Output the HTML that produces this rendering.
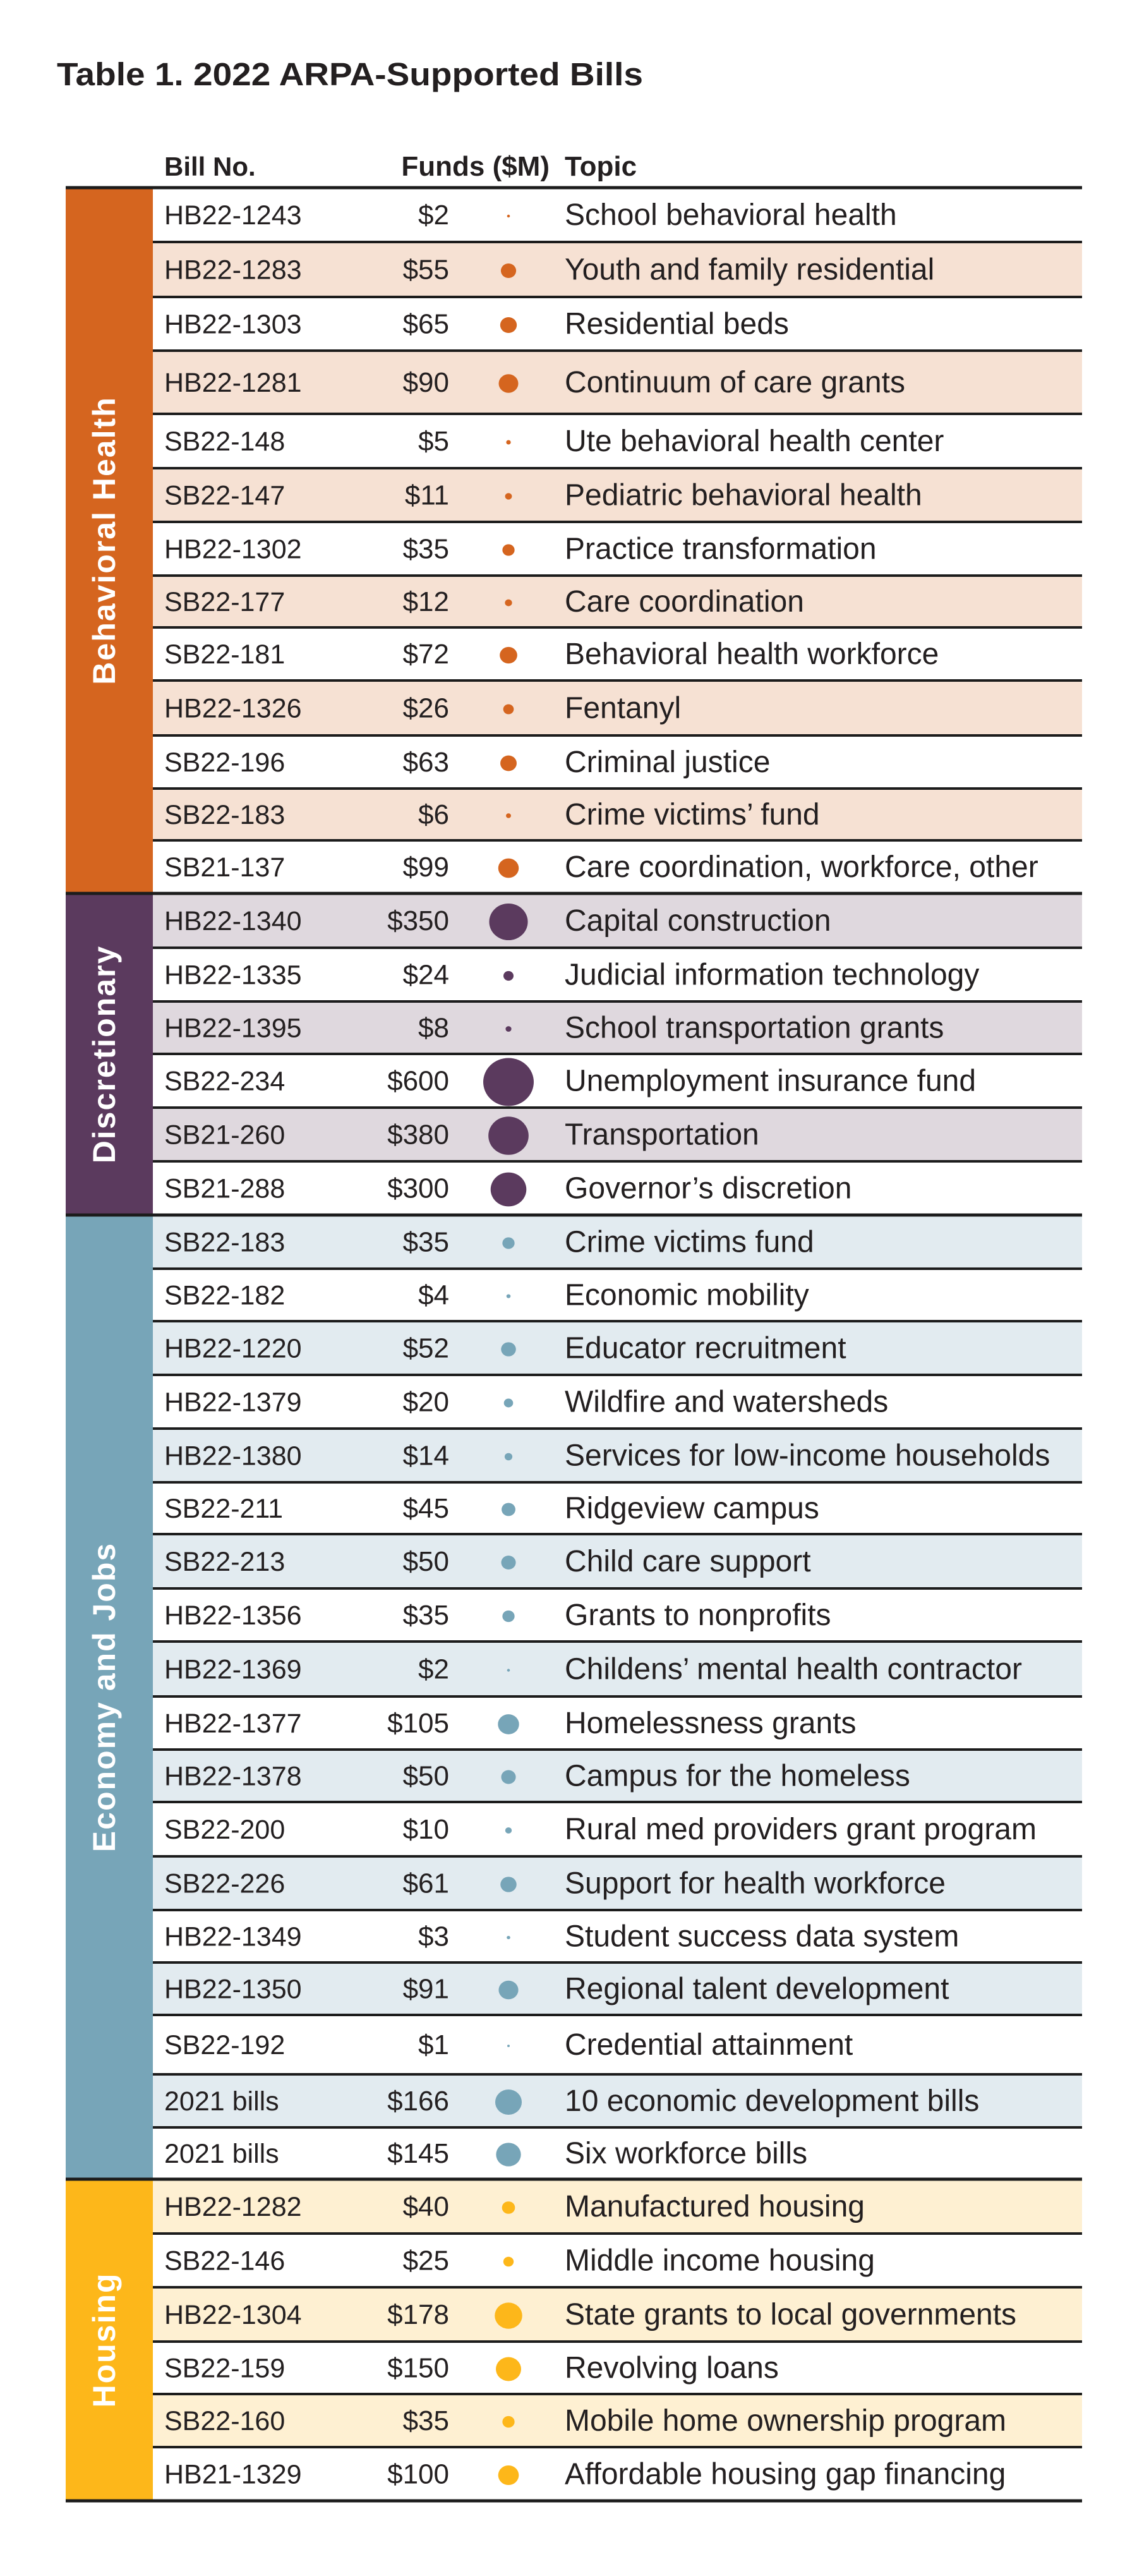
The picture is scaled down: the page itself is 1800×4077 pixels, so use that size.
<!DOCTYPE html>
<html><head><meta charset="utf-8">
<style>
html,body{margin:0;padding:0;background:#fff;}
svg{display:block;font-family:"Liberation Sans",sans-serif;}
</style></head>
<body>
<svg id="chart" width="1800" height="4077" viewBox="0 0 1800 4077" xmlns="http://www.w3.org/2000/svg">
<text x="90" y="135" font-size="51" font-weight="bold" fill="#231f20" textLength="928" lengthAdjust="spacingAndGlyphs">Table 1. 2022 ARPA-Supported Bills</text>
<text x="260" y="278" font-size="42" font-weight="bold" fill="#231f20">Bill No.</text>
<text x="870" y="278" font-size="44" font-weight="bold" fill="#231f20" text-anchor="end">Funds ($M)</text>
<text x="894" y="278" font-size="44" font-weight="bold" fill="#231f20">Topic</text>
<g id="body"></g>
</svg>
<script>
const bills = ["HB22-1243","HB22-1283","HB22-1303","HB22-1281","SB22-148","SB22-147","HB22-1302","SB22-177","SB22-181","HB22-1326","SB22-196","SB22-183","SB21-137",
"HB22-1340","HB22-1335","HB22-1395","SB22-234","SB21-260","SB21-288",
"SB22-183","SB22-182","HB22-1220","HB22-1379","HB22-1380","SB22-211","SB22-213","HB22-1356","HB22-1369","HB22-1377","HB22-1378","SB22-200","SB22-226","HB22-1349","HB22-1350","SB22-192","2021 bills","2021 bills",
"HB22-1282","SB22-146","HB22-1304","SB22-159","SB22-160","HB21-1329"];
const funds = [2,55,65,90,5,11,35,12,72,26,63,6,99,
350,24,8,600,380,300,
35,4,52,20,14,45,50,35,2,105,50,10,61,3,91,1,166,145,
40,25,178,150,35,100];
const topics = ["School behavioral health","Youth and family residential","Residential beds","Continuum of care grants","Ute behavioral health center","Pediatric behavioral health","Practice transformation","Care coordination","Behavioral health workforce","Fentanyl","Criminal justice","Crime victims’ fund","Care coordination, workforce, other",
"Capital construction","Judicial information technology","School transportation grants","Unemployment insurance fund","Transportation","Governor’s discretion",
"Crime victims fund","Economic mobility","Educator recruitment","Wildfire and watersheds","Services for low-income households","Ridgeview campus","Child care support","Grants to nonprofits","Childens’ mental health contractor","Homelessness grants","Campus for the homeless","Rural med providers grant program","Support for health workforce","Student success data system","Regional talent development","Credential attainment","10 economic development bills","Six workforce bills",
"Manufactured housing","Middle income housing","State grants to local governments","Revolving loans","Mobile home ownership program","Affordable housing gap financing"];
const groupNames = ["Behavioral Health","Discretionary","Economy and Jobs","Housing"];
const groupCounts = [13,6,18,6];

const rowEdges=[297,383,470,555,655,741,826,911,993,1077,1164,1248,1330,1414,1500,1585,1668,1753,1838,1923,2008,2091,2176,2261,2346,2428,2514,2598,2685,2769,2852,2938,3023,3106,3189,3283,3367,3449,3535,3620,3706,3789,3873,3958];
const dark=["#d5651f","#5b3a5e","#77a5b8","#fdb71a"];
const light=["#f6e1d3","#dfd8de","#e2ebf0","#fef0d2"];
const NS="http://www.w3.org/2000/svg";
const g=document.getElementById('body');
function mk(tag,attrs){const e=document.createElementNS(NS,tag);for(const k in attrs)e.setAttribute(k,attrs[k]);g.appendChild(e);return e;}
function dotD(v){return Math.max(4,80*Math.sqrt(v/600));}
let idx=0;
groupNames.forEach((gn,gi)=>{
  const start=idx,end=idx+groupCounts[gi];
  const y0=rowEdges[start],y1=rowEdges[end];
  for(let i=start;i<end;i++){
    const k=i-start;
    const striped = gi===0 ? (k%2===1) : (k%2===0);
    const ya=rowEdges[i],yb=rowEdges[i+1],cy=(ya+yb)/2;
    if(striped){
      const r=mk('rect',{x:238,y:ya,width:1475,height:yb-ya,fill:light[gi]});
      
      
    }
    const t1=mk('text',{x:260,y:cy+15,'font-size':43,fill:'#231f20'});
    t1.textContent=bills[i];
    
    
    const t2=mk('text',{x:711,y:cy+15,'font-size':44,fill:'#231f20','text-anchor':'end'});
    t2.textContent='$'+funds[i];
    
    
    const c=mk('ellipse',{cx:805,cy:cy+2,rx:dotD(funds[i])/2,ry:dotD(funds[i])/2*0.95,fill:dark[gi]});
    
    
    const t3=mk('text',{x:894,y:cy+16,'font-size':48,fill:'#231f20'});
    t3.textContent=topics[i];
    
    
    if(i>start){
      const l=mk('rect',{x:238,y:ya-2,width:1475,height:4,fill:'#1c1c1c'});
      
      
    }
  }
  const band=mk('rect',{x:104,y:y0,width:138,height:y1-y0,fill:dark[gi]});
  
  
  const cy=(y0+y1)/2;
  const lab=mk('text',{x:0,y:0,'font-size':50,'font-weight':'bold',fill:'#fff','text-anchor':'middle','letter-spacing':'2',transform:`translate(182,${cy}) rotate(-90)`});
  lab.textContent=gn;
  
  
  const gl=mk('rect',{x:104,y:y0-2.5,width:1609,height:5,fill:'#1c1c1c'});
  
  
  idx=end;
});
const bl=mk('rect',{x:104,y:rowEdges[rowEdges.length-1]-2.5,width:1609,height:5,fill:'#1c1c1c'});


</script>
</body></html>
